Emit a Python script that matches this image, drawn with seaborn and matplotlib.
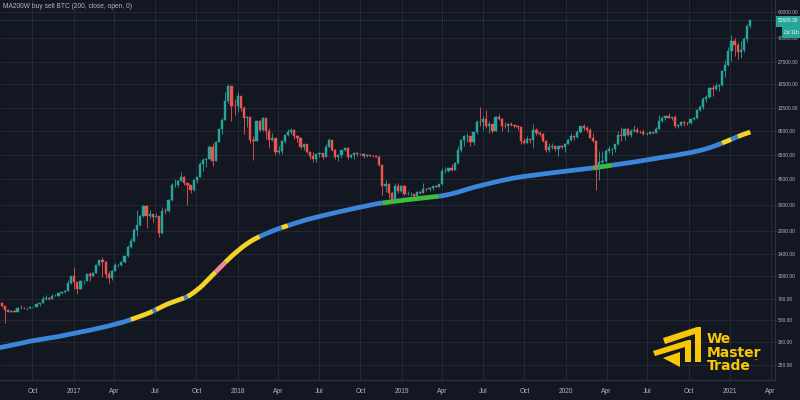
import numpy as np
import pandas as pd
import matplotlib
matplotlib.use('Agg')
import matplotlib.pyplot as plt
import matplotlib.dates as mdates
from matplotlib.ticker import FuncFormatter, NullLocator, FixedLocator
from matplotlib.patches import Polygon, Rectangle
import seaborn as sns

# weekly BTC candles, first week starts 2016-07-18 (open of each week = previous close)
first_open = 665
close = [655, 624, 590, 570, 581, 573, 608, 606, 608, 603,
         612, 618, 640, 653, 700, 705, 702, 730, 732, 765,
         775, 790, 890, 995, 910, 820, 920, 920, 1020, 1000,
         1050, 1190, 1270, 1230, 1020, 960, 1080, 1180, 1180, 1230,
         1350, 1550, 1720, 2040, 2190, 2520, 2950, 2520, 2590, 2500,
         2510, 1930, 2750, 2740, 3250, 4060, 4100, 4370, 4600, 4230,
         4100, 3790, 4400, 4610, 5700, 6000, 6150, 7400, 5950, 8000,
         9700, 11250, 15000, 19000, 13900, 13850, 16200, 13600, 11600, 11800,
         8200, 8100, 11100, 9600, 11500, 9500, 8200, 8500, 6850, 6900,
         8050, 8900, 9250, 9650, 8700, 8500, 7350, 7700, 6800, 6450,
         6150, 6600, 6700, 6350, 7400, 8200, 7000, 6300, 6500, 7050,
         7300, 6300, 6500, 6700, 6600, 6600, 6400, 6550, 6450, 6400,
         6350, 5550, 4000, 4150, 3600, 3250, 4000, 3750, 4000, 3550,
         3550, 3550, 3450, 3650, 3620, 3850, 3820, 3920, 4000, 3990,
         4140, 5050, 5050, 5300, 5200, 5750, 7000, 8200, 8700, 8700,
         7950, 9300, 10850, 10800, 11450, 10300, 10600, 9500, 11800, 11400,
         10200, 10150, 10600, 10350, 10300, 10000, 8050, 7850, 8300, 8250,
         9550, 9200, 9050, 8100, 7050, 7400, 7500, 7100, 7500, 7350,
         7750, 8190, 8700, 8600, 9350, 10150, 9900, 9650, 8550, 8050,
         5350, 5800, 5900, 6900, 7100, 7150, 7700, 8900, 8700, 9700,
         8900, 9450, 9650, 9350, 9300, 9000, 9050, 9250, 9150, 9700,
         11050, 11550, 11900, 11650, 11700, 10250, 10330, 10920, 10770, 10680,
         11380, 11500, 13030, 13740, 15480, 15970, 18400, 18180, 19150, 19270,
         23850, 26250, 33000, 38150, 36000, 32300, 33100, 39200, 48600, 52605.39]
high = [680, 660, 628, 600, 585, 585, 612, 630, 612, 610,
        614, 620, 645, 655, 725, 745, 720, 750, 750, 770,
        780, 795, 930, 1000, 1150, 910, 930, 925, 1030, 1060,
        1060, 1190, 1290, 1330, 1250, 1070, 1100, 1210, 1200, 1250,
        1360, 1600, 1800, 2100, 2760, 2550, 2980, 2980, 2770, 2600,
        2650, 2530, 2900, 2850, 3270, 4200, 4480, 4400, 4980, 4700,
        4250, 4100, 4400, 4620, 5850, 6200, 6250, 7600, 7900, 8100,
        9750, 11500, 17200, 19700, 19000, 15500, 17200, 16300, 14000, 12000,
        11800, 8800, 11200, 11300, 11700, 11600, 9900, 9100, 8500, 7500,
        8200, 9000, 9750, 9950, 9700, 8900, 8500, 7750, 7750, 6900,
        6800, 6650, 6800, 6700, 7700, 8500, 8250, 7150, 6600, 7050,
        7400, 7400, 6600, 6800, 6800, 6700, 6700, 6650, 6550, 6500,
        6550, 6500, 5600, 4450, 4250, 3650, 4200, 4250, 4100, 4100,
        3700, 3650, 3550, 3700, 3700, 4200, 3900, 3950, 4020, 4100,
        4150, 5300, 5450, 5350, 5650, 5850, 7500, 8350, 8900, 9100,
        8800, 9350, 11250, 13800, 12000, 13200, 11100, 10600, 11900, 12300,
        11500, 10950, 10650, 10900, 10450, 10350, 10050, 8500, 8750, 8400,
        10500, 9950, 9500, 9100, 8200, 7850, 7800, 7650, 7550, 7650,
        7850, 8400, 9200, 8800, 9550, 10150, 10500, 10250, 9950, 9200,
        8200, 6950, 6950, 7200, 7450, 7300, 7750, 9450, 10000, 9950,
        9850, 9750, 10400, 10000, 9600, 9800, 9350, 9450, 9350, 10000,
        12100, 12000, 12100, 12450, 11750, 12050, 10600, 11100, 10990, 10950,
        11450, 11700, 13350, 14100, 15950, 16500, 18800, 19450, 19900, 19400,
        24300, 28400, 34800, 41950, 40000, 37800, 38500, 40950, 49700, 52640]
low = [645, 620, 480, 565, 565, 565, 568, 600, 600, 590,
       598, 607, 615, 625, 650, 685, 690, 700, 725, 728,
       755, 770, 790, 885, 810, 750, 820, 880, 915, 920,
       990, 1050, 1170, 980, 960, 890, 940, 1070, 1140, 1170,
       1220, 1340, 1540, 1700, 1850, 2150, 2480, 2100, 2450, 2320,
       2480, 1830, 1920, 2600, 2700, 3200, 3950, 3950, 4350, 4100,
       2980, 3600, 3750, 4240, 4600, 5100, 5450, 6130, 5500, 5900,
       7950, 9000, 11200, 14500, 11000, 12200, 12800, 12900, 9000, 10100,
       7800, 6000, 8100, 9400, 9400, 8400, 7300, 8100, 6500, 6600,
       6650, 7900, 8700, 9000, 8350, 7950, 7100, 7050, 6700, 6150,
       5800, 5800, 6350, 6100, 6300, 7350, 6900, 6100, 5900, 6250,
       6900, 6150, 6200, 6150, 6450, 6500, 6200, 6350, 6400, 6300,
       6300, 5500, 3500, 3650, 3350, 3150, 3250, 3600, 3650, 3500,
       3500, 3450, 3400, 3400, 3550, 3620, 3700, 3700, 3800, 3950,
       3950, 4100, 4950, 5000, 5050, 5150, 5700, 6850, 7500, 8000,
       7500, 7650, 9000, 10300, 9650, 9900, 9100, 9200, 9400, 11150,
       9500, 9850, 9350, 10150, 9900, 9600, 7750, 7750, 7800, 7900,
       7300, 8900, 8700, 8000, 6800, 6850, 7100, 6950, 6450, 7150,
       6850, 7700, 8100, 8250, 8550, 9150, 9600, 9300, 8450, 8000,
       3800, 4450, 5650, 5850, 6750, 6500, 6800, 7650, 8100, 8200,
       8700, 8650, 9300, 9200, 9200, 8950, 8950, 9050, 9050, 9150,
       9700, 10950, 11150, 11550, 11150, 9900, 9850, 10250, 10150, 10400,
       10550, 11200, 11400, 12900, 13300, 14850, 15800, 16300, 18000, 17600,
       19000, 21900, 26000, 28000, 30400, 28800, 29200, 32300, 37400, 47000]

# 200 week moving average, one value per week
ma200w = [327, 330, 333, 336, 340, 343, 347, 350, 354, 358,
          362, 365, 368, 371, 374, 377, 380, 383, 386, 389,
          393, 397, 401, 405, 409, 413, 417, 421, 425, 429,
          434, 439, 444, 449, 454, 459, 465, 471, 477, 483,
          490, 498, 506, 515, 524, 533, 543, 553, 564, 576,
          590, 605, 620, 635, 648, 660, 672, 684, 696, 708,
          722, 745, 770, 800, 832, 870, 915, 960, 1010, 1060,
          1115, 1170, 1230, 1290, 1350, 1410, 1470, 1530, 1590, 1645,
          1700, 1750, 1795, 1840, 1880, 1920, 1960, 2000, 2040, 2075,
          2110, 2145, 2180, 2215, 2250, 2285, 2320, 2355, 2390, 2420,
          2450, 2480, 2510, 2540, 2570, 2600, 2630, 2660, 2690, 2720,
          2750, 2780, 2810, 2840, 2870, 2900, 2930, 2960, 2990, 3020,
          3050, 3075, 3095, 3115, 3135, 3155, 3175, 3195, 3215, 3235,
          3255, 3272, 3290, 3308, 3326, 3344, 3362, 3380, 3398, 3416,
          3435, 3460, 3490, 3525, 3565, 3610, 3660, 3715, 3770, 3830,
          3885, 3940, 3990, 4040, 4090, 4140, 4190, 4240, 4290, 4340,
          4385, 4430, 4475, 4520, 4560, 4600, 4635, 4670, 4700, 4730,
          4760, 4790, 4820, 4850, 4880, 4910, 4940, 4970, 5000, 5030,
          5060, 5090, 5120, 5150, 5180, 5210, 5240, 5270, 5300, 5330,
          5360, 5400, 5440, 5480, 5520, 5560, 5600, 5640, 5680, 5720,
          5760, 5800, 5845, 5890, 5935, 5980, 6030, 6080, 6130, 6180,
          6230, 6280, 6330, 6380, 6430, 6480, 6530, 6590, 6650, 6710,
          6770, 6840, 6910, 6990, 7080, 7180, 7290, 7410, 7540, 7680,
          7830, 7990, 8150, 8320, 8490, 8660, 8830, 9000, 9150, 9300]
# colour state of the MA line: (state, number of weeks)
ma_runs = [('b', 42), ('y', 7), ('b', 1), ('y', 9), ('b', 1), ('y', 9), ('p', 3),
           ('y', 11), ('b', 7), ('y', 2), ('b', 30), ('g', 18), ('b', 49), ('g', 6),
           ('b', 35), ('y', 3), ('b', 2), ('y', 5)]

ytick_vals = [250, 360, 500, 700, 1000, 1400, 2000, 3000, 4500, 6500,
              9500, 13500, 19500, 27500, 40000, 60000]
title_txt = 'MA200W buy sell BTC (200, close, open, 0)'
last_price_txt = '52605.39'
countdown_txt = '2d 11h'

BG = '#131722'
GRID = '#242833'
EDGE = '#2f333e'
TXT = '#b2b5be'
UP = '#26a69a'
DOWN = '#ef5350'
MA_COLORS = {'b': '#3b86d8', 'y': '#f3d22a', 'g': '#3dbd3d', 'p': '#f08a9a'}
LOGO = '#f7c708'

assert len(close) == len(high) == len(low) == len(ma200w) == 240

sns.set_style('dark', {'axes.facecolor': BG, 'figure.facecolor': BG,
                       'axes.edgecolor': EDGE, 'text.color': TXT,
                       'xtick.color': TXT, 'ytick.color': TXT})
plt.rcParams['font.family'] = ['Liberation Sans', 'DejaVu Sans']

dates = pd.date_range('2016-07-18', periods=len(close), freq='7D')
xs = mdates.date2num(dates.to_pydatetime())
opens = [first_open] + close[:-1]

fig = plt.figure(figsize=(8, 4), dpi=100)
ax = fig.add_axes([0, 0.05, 0.96875, 0.95])
ax.set_facecolor(BG)
ax.set_yscale('log')

# MA line, split in coloured runs
rows = []
palette = {}
start = 0
for k, (code, n) in enumerate(ma_runs):
    stop = min(start + n, len(ma200w) - 1)
    for i in range(start, stop + 1):
        rows.append({'x': xs[i], 'ma': ma200w[i], 'run': 'r%d' % k})
    palette['r%d' % k] = MA_COLORS[code]
    start += n
ma_df = pd.DataFrame(rows)
sns.lineplot(data=ma_df, x='x', y='ma', hue='run', palette=palette,
             estimator=None, sort=False, legend=False, linewidth=3.4,
             solid_capstyle='butt', ax=ax, zorder=2)

# candles
cols = [UP if c >= o else DOWN for o, c in zip(opens, close)]
ax.vlines(xs, low, high, colors=cols, linewidth=0.6, zorder=3)
bottoms = [min(o, c) for o, c in zip(opens, close)]
heights = [abs(c - o) for o, c in zip(opens, close)]
ax.bar(xs, heights, bottom=bottoms, width=5.0, color=cols,
       edgecolor=cols, linewidth=0.3, zorder=4)

# last price line
ax.axhline(close[-1], color=UP, linewidth=0.6, linestyle=(0, (1, 1.5)), alpha=0.6, zorder=1)

ax.set_xlim(mdates.date2num(pd.Timestamp('2016-07-20 20:00')),
            mdates.date2num(pd.Timestamp('2021-04-11')))
ax.set_ylim(198.1, 72290)

ax.yaxis.tick_right()
ax.yaxis.set_major_locator(FixedLocator(ytick_vals))
ax.yaxis.set_major_formatter(FuncFormatter(lambda v, p: '%.2f' % v))
ax.yaxis.set_minor_locator(NullLocator())
ax.xaxis.set_major_locator(mdates.MonthLocator(bymonth=[1, 4, 7, 10]))


def month_fmt(v, pos):
    d = mdates.num2date(v)
    return str(d.year) if d.month == 1 else d.strftime('%b')


ax.xaxis.set_major_formatter(FuncFormatter(month_fmt))
ax.tick_params(axis='y', which='major', length=1.5, width=0.6, color=EDGE,
               labelsize=3.5, labelcolor=TXT, pad=0.6, right=True, left=False)
ax.tick_params(axis='x', which='major', length=0, labelsize=4.8, labelcolor=TXT, pad=6)
ax.set_xlabel('')
ax.set_ylabel('')
ax.grid(True, color=GRID, linewidth=0.7)
ax.set_axisbelow(True)
for s in ['top', 'left']:
    ax.spines[s].set_visible(False)
for s in ['right', 'bottom']:
    ax.spines[s].set_color(EDGE)
    ax.spines[s].set_linewidth(0.8)

ax.text(0.004, 0.992, title_txt, transform=ax.transAxes, fontsize=4.8,
        color=TXT, va='top', ha='left')


def px(x, y):
    return (x / 800.0, 1 - y / 400.0)


# price and countdown boxes on the axis
fig.patches.append(Rectangle(px(776, 26.5), 24 / 800, 11 / 400, transform=fig.transFigure,
                             facecolor=UP, edgecolor='none', zorder=5))
fig.text(*px(788, 21), last_price_txt, fontsize=3.5, color='white',
         ha='center', va='center', zorder=6)
fig.patches.append(Rectangle(px(782, 37.5), 18 / 800, 10 / 400, transform=fig.transFigure,
                             facecolor=UP, edgecolor='none', zorder=5))
fig.text(*px(791, 32.5), countdown_txt, fontsize=3.5, color='white',
         ha='center', va='center', zorder=6)

# logo mark
shapes = [
    [(663, 338), (697, 327), (701, 327), (701, 362), (695, 362), (695, 334), (665, 344)],
    [(653, 351), (688, 340), (691, 340), (691, 362), (685, 362), (685, 347), (655, 356)],
    [(663, 358), (680, 352), (680, 367)],
]
for sh in shapes:
    fig.patches.append(Polygon([px(*p) for p in sh], closed=True, transform=fig.transFigure,
                               facecolor=LOGO, edgecolor='none', zorder=5))
for word, yb in [('We', 343), ('Master', 357), ('Trade', 370)]:
    fig.text(*px(707, yb), word, fontsize=10, fontweight='bold', color=LOGO,
             family='DejaVu Sans', ha='left', va='baseline', zorder=6)
fig.text(*px(753, 362), '\u2122', fontsize=3, color=LOGO, family='DejaVu Sans',
         ha='left', va='baseline', zorder=6)

fig.savefig('out.png', dpi=100, facecolor=BG)
